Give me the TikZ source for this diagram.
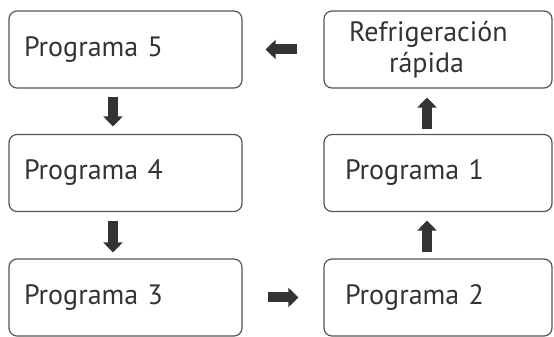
\documentclass[tikz,border=0pt]{standalone}
\usepackage{fontspec}
\setmainfont{PT Sans}
\usetikzlibrary{arrows.meta}
\definecolor{boxline}{HTML}{555555}
\definecolor{txt}{HTML}{333333}
\definecolor{arr}{HTML}{333333}
\tikzset{
  box/.style={draw=boxline, line width=1.2pt, rounded corners=8pt, minimum height=77pt,
    inner xsep=0pt, inner ysep=0pt, text=txt, font=\fontsize{28}{31}\selectfont},
  lbox/.style={box, minimum width=233pt, text width=203pt, align=left},
  rbox/.style={box, minimum width=228pt, text width=186pt, align=left},
  blk/.style={draw=arr, line width=10pt, -{Triangle[length=10pt,width=19pt]}}
}
\begin{document}
\begin{tikzpicture}[x=1pt,y=1pt]
\useasboundingbox (0,0) rectangle (554,337);
\node[lbox] (p5) at (125.5,287.5) {Programa 5};
\node[lbox] (p4) at (125.5,164) {Programa 4};
\node[lbox] (p3) at (125.5,39.5) {Programa 3};
\node[box, minimum width=228pt, text width=178pt, align=left] (rf) at (438,287.5) {Refrigeración\\\hspace*{40pt}rápida};
\node[rbox] (p1) at (438,164) {Programa 1};
\node[rbox] (p2) at (438,39.5) {Programa 2};
\draw[blk, shorten <=8pt, shorten >=7.5pt] ([xshift=-12.5pt]p5.south) -- ([xshift=-12.5pt]p4.north);
\draw[blk, shorten <=8.5pt, shorten >=6pt] ([xshift=-12.5pt]p4.south) -- ([xshift=-12.5pt]p3.north);
\draw[blk, shorten <=25pt, shorten >=25pt] (p3.east) -- (p2.west);
\draw[blk, shorten <=6pt, shorten >=8.5pt] ([xshift=-11pt]p2.north) -- ([xshift=-11pt]p1.south);
\draw[blk, shorten <=4.5pt, shorten >=9pt] ([xshift=-11pt]p1.north) -- ([xshift=-11pt]rf.south);
\draw[blk, shorten <=26pt, shorten >=23pt] (rf.west) -- (p5.east);
\end{tikzpicture}
\end{document}
